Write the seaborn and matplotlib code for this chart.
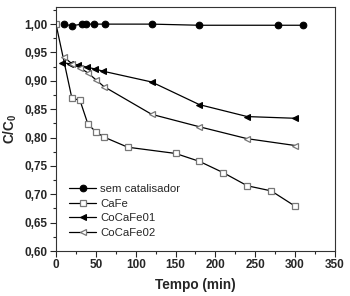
import matplotlib
matplotlib.use("Agg")
import matplotlib.pyplot as plt
import seaborn as sns
from matplotlib.ticker import MultipleLocator, FuncFormatter

# sem catalisador
t_sem = [10, 20, 32, 38, 48, 62, 120, 180, 278, 310]
c_sem = [1.000, 0.997, 1.000, 1.000, 1.000, 1.000, 1.000, 0.998, 0.998, 0.998]

# CaFe
t_cafe = [0, 20, 30, 40, 50, 60, 90, 150, 180, 210, 240, 270, 300]
c_cafe = [1.000, 0.869, 0.866, 0.824, 0.810, 0.801, 0.783, 0.772, 0.758, 0.738, 0.715, 0.706, 0.679]

# CoCaFe01
t_co1 = [8, 18, 28, 39, 49, 59, 120, 180, 240, 300]
c_co1 = [0.932, 0.930, 0.928, 0.924, 0.921, 0.917, 0.898, 0.858, 0.837, 0.834]

# CoCaFe02
t_co2 = [10, 20, 30, 40, 50, 60, 120, 180, 240, 300]
c_co2 = [0.942, 0.930, 0.923, 0.914, 0.902, 0.890, 0.841, 0.819, 0.798, 0.786]

sns.set_style("ticks")
plt.rcParams["font.family"] = ["Liberation Sans", "DejaVu Sans"]

fig = plt.figure(figsize=(3.5, 2.96), dpi=100)
ax = fig.add_axes([0.16, 0.152, 0.797, 0.824])

common = dict(color="black", lw=0.9, markersize=4.8, ax=ax)
sns.lineplot(x=t_sem, y=c_sem, marker="o", mfc="black", mec="black",
             label="sem catalisador", **common)
sns.lineplot(x=t_cafe, y=c_cafe, marker="s", mfc="white", mec="#777777",
             mew=0.9, label="CaFe", **common)
sns.lineplot(x=t_co1, y=c_co1, marker="<", mfc="black", mec="black",
             label="CoCaFe01", **common)
sns.lineplot(x=t_co2, y=c_co2, marker="<", mfc="white", mec="#777777",
             mew=0.9, label="CoCaFe02", **common)

ax.set_xlim(0, 350)
ax.set_ylim(0.60, 1.03)
ax.xaxis.set_major_locator(MultipleLocator(50))
ax.xaxis.set_minor_locator(MultipleLocator(25))
ax.yaxis.set_major_locator(MultipleLocator(0.05))
ax.yaxis.set_minor_locator(MultipleLocator(0.025))
ax.yaxis.set_major_formatter(FuncFormatter(lambda v, p: f"{v:.2f}".replace(".", ",")))
ax.tick_params(which="major", length=4, width=0.8, labelsize=8.5, pad=2)
ax.tick_params(which="minor", length=2, width=0.8)
for lab in ax.get_xticklabels() + ax.get_yticklabels():
    lab.set_fontweight("bold")
for s in ax.spines.values():
    s.set_linewidth(0.8)
    s.set_color("#333333")

ax.set_xlabel("Tempo (min)", fontsize=9.8, fontweight="bold", labelpad=5)
ax.set_ylabel("C/C$_\\mathregular{0}$", fontsize=9.8, fontweight="bold", labelpad=4)

leg = ax.legend(loc="lower left", bbox_to_anchor=(0.0, 0.0), frameon=False,
                fontsize=8.2, handlelength=2.4, handletextpad=0.35,
                labelspacing=0.4, borderaxespad=0.75)

fig.savefig("out.png", dpi=100)
